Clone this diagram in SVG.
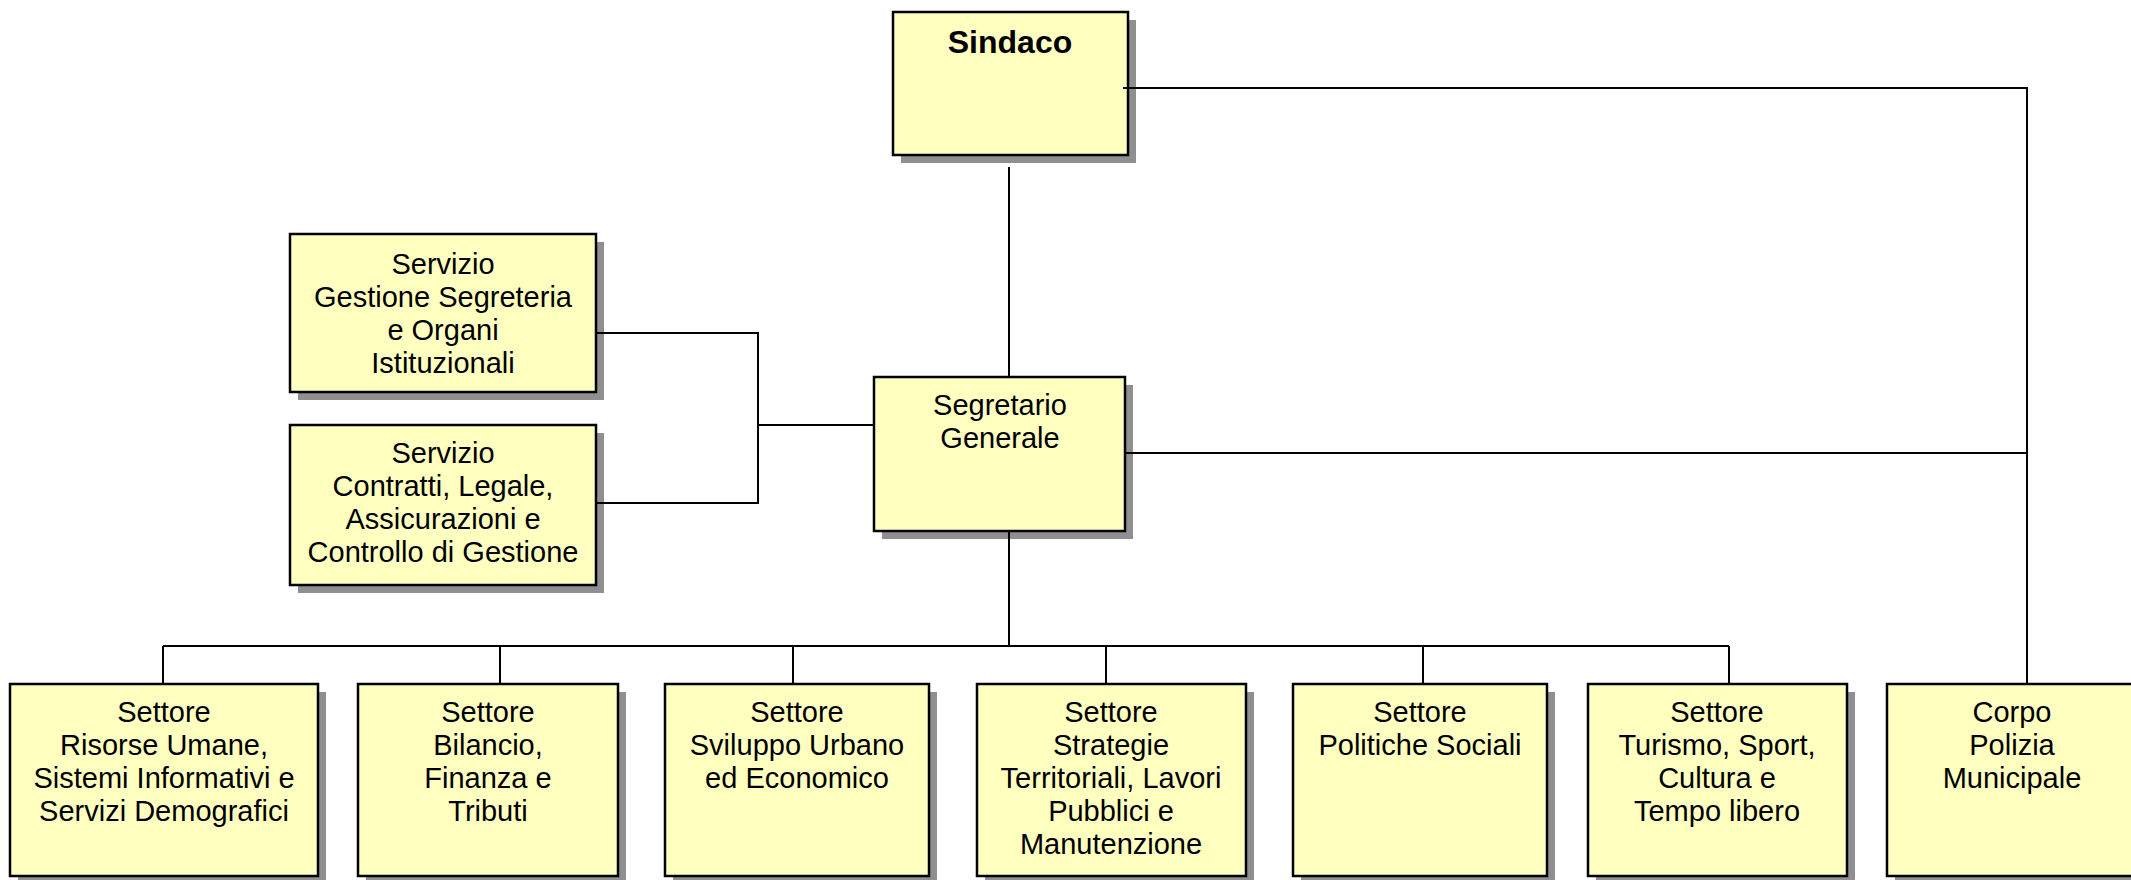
<svg xmlns="http://www.w3.org/2000/svg" width="2131" height="880" viewBox="0 0 2131 880">
<style>
.sh{fill:#8f8f8f;stroke:none}
.bx{fill:#FFFFC0;stroke:#000;stroke-width:2.5}
.t{font-family:"Liberation Sans",Arial,sans-serif;font-size:29px;fill:#000;text-anchor:middle}
.tb{font-family:"Liberation Sans",Arial,sans-serif;font-size:32px;font-weight:bold;fill:#000;text-anchor:middle}
.c{fill:none;stroke:#000;stroke-width:2}
</style>
<rect width="2131" height="880" fill="#fff"/>
<g id="sindaco">
<rect class="sh" x="901" y="20" width="235" height="143"/>
<rect class="bx" x="893" y="12" width="235" height="143"/>
<text class="tb" x="1010" y="53">Sindaco</text>
</g>
<g id="segretario">
<rect class="sh" x="882" y="385" width="251" height="154"/>
<rect class="bx" x="874" y="377" width="251" height="154"/>
<text class="t" x="1000" y="415">Segretario</text>
<text class="t" x="1000" y="448">Generale</text>
</g>
<g id="servizio-segreteria">
<rect class="sh" x="298" y="242" width="306" height="158"/>
<rect class="bx" x="290" y="234" width="306" height="158"/>
<text class="t" x="443" y="274">Servizio</text>
<text class="t" x="443" y="307">Gestione Segreteria</text>
<text class="t" x="443" y="340">e Organi</text>
<text class="t" x="443" y="373">Istituzionali</text>
</g>
<g id="servizio-contratti">
<rect class="sh" x="298" y="433" width="306" height="160"/>
<rect class="bx" x="290" y="425" width="306" height="160"/>
<text class="t" x="443" y="463">Servizio</text>
<text class="t" x="443" y="496">Contratti, Legale,</text>
<text class="t" x="443" y="529">Assicurazioni e</text>
<text class="t" x="443" y="562">Controllo di Gestione</text>
</g>
<g id="settore-risorse">
<rect class="sh" x="18" y="692" width="308" height="192"/>
<rect class="bx" x="10" y="684" width="308" height="192"/>
<text class="t" x="164" y="722">Settore</text>
<text class="t" x="164" y="755">Risorse Umane,</text>
<text class="t" x="164" y="788">Sistemi Informativi e</text>
<text class="t" x="164" y="821">Servizi Demografici</text>
</g>
<g id="settore-bilancio">
<rect class="sh" x="366" y="692" width="260" height="192"/>
<rect class="bx" x="358" y="684" width="260" height="192"/>
<text class="t" x="488" y="722">Settore</text>
<text class="t" x="488" y="755">Bilancio,</text>
<text class="t" x="488" y="788">Finanza e</text>
<text class="t" x="488" y="821">Tributi</text>
</g>
<g id="settore-sviluppo">
<rect class="sh" x="673" y="692" width="264" height="192"/>
<rect class="bx" x="665" y="684" width="264" height="192"/>
<text class="t" x="797" y="722">Settore</text>
<text class="t" x="797" y="755">Sviluppo Urbano</text>
<text class="t" x="797" y="788">ed Economico</text>
</g>
<g id="settore-strategie">
<rect class="sh" x="985" y="692" width="269" height="192"/>
<rect class="bx" x="977" y="684" width="269" height="192"/>
<text class="t" x="1111" y="722">Settore</text>
<text class="t" x="1111" y="755">Strategie</text>
<text class="t" x="1111" y="788">Territoriali, Lavori</text>
<text class="t" x="1111" y="821">Pubblici e</text>
<text class="t" x="1111" y="854">Manutenzione</text>
</g>
<g id="settore-politiche">
<rect class="sh" x="1301" y="692" width="254" height="192"/>
<rect class="bx" x="1293" y="684" width="254" height="192"/>
<text class="t" x="1420" y="722">Settore</text>
<text class="t" x="1420" y="755">Politiche Sociali</text>
</g>
<g id="settore-turismo">
<rect class="sh" x="1596" y="692" width="259" height="192"/>
<rect class="bx" x="1588" y="684" width="259" height="192"/>
<text class="t" x="1717" y="722">Settore</text>
<text class="t" x="1717" y="755">Turismo, Sport,</text>
<text class="t" x="1717" y="788">Cultura e</text>
<text class="t" x="1717" y="821">Tempo libero</text>
</g>
<g id="corpo-polizia">
<rect class="sh" x="1895" y="692" width="250" height="192"/>
<rect class="bx" x="1887" y="684" width="250" height="192"/>
<text class="t" x="2012" y="722">Corpo</text>
<text class="t" x="2012" y="755">Polizia</text>
<text class="t" x="2012" y="788">Municipale</text>
</g>
<g id="connectors">
<polyline class="c" points="1123,88 2027,88 2027,684"/>
<line class="c" x1="1009" y1="167" x2="1009" y2="377"/>
<line class="c" x1="1125" y1="453" x2="2027" y2="453"/>
<polyline class="c" points="596,333 758,333 758,503 596,503"/>
<line class="c" x1="758" y1="425" x2="874" y2="425"/>
<line class="c" x1="1009" y1="532" x2="1009" y2="646"/>
<line class="c" x1="163" y1="646" x2="1729" y2="646"/>
<line class="c" x1="163" y1="646" x2="163" y2="684"/>
<line class="c" x1="500" y1="646" x2="500" y2="684"/>
<line class="c" x1="793" y1="646" x2="793" y2="684"/>
<line class="c" x1="1106" y1="646" x2="1106" y2="684"/>
<line class="c" x1="1423" y1="646" x2="1423" y2="684"/>
<line class="c" x1="1729" y1="646" x2="1729" y2="684"/>
</g>
</svg>
